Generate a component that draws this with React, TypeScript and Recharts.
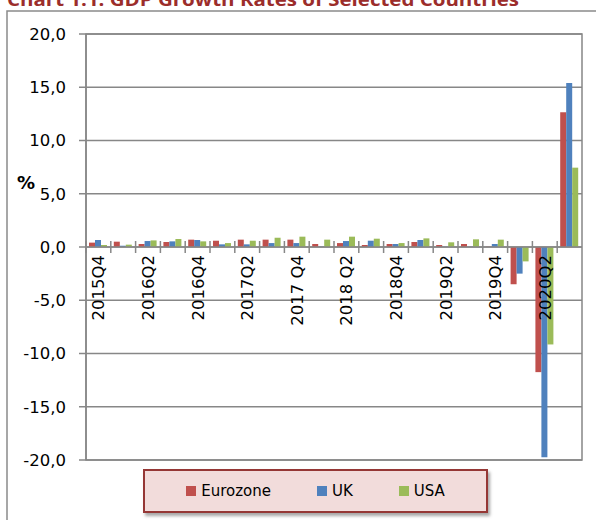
import {
  Bar,
  BarChart,
  CartesianGrid,
  Legend,
  ReferenceArea,
  ReferenceLine,
  XAxis,
  YAxis,
} from 'recharts';

const quarters = [
  '2015Q4', '2016Q1', '2016Q2', '2016Q3', '2016Q4', '2017Q1', '2017Q2', '2017Q3', '2017 Q4', '2018Q1',
  '2018 Q2', '2018Q3', '2018Q4', '2019Q1', '2019Q2', '2019Q3', '2019Q4', '2020Q1', '2020Q2', '2020Q3',
];
const eurozone = [
  0.41, 0.5, 0.28, 0.47, 0.69, 0.59, 0.69, 0.69, 0.69, 0.28,
  0.37, 0.19, 0.28, 0.47, 0.19, 0.28, 0.03, -3.5, -11.75, 12.65,
];
const uk = [
  0.66, 0.12, 0.56, 0.53, 0.66, 0.25, 0.25, 0.37, 0.37, 0.03,
  0.56, 0.59, 0.28, 0.66, 0.02, 0.02, 0.28, -2.5, -19.75, 15.4,
];
const usa = [
  0.19, 0.22, 0.62, 0.75, 0.53, 0.37, 0.59, 0.87, 0.97, 0.69,
  0.97, 0.78, 0.37, 0.81, 0.44, 0.72, 0.69, -1.35, -9.15, 7.45,
];
const yTicks = [-20, -15, -10, -5, 0, 5, 10, 15, 20];

const data = quarters.map((q, i) => ({ q, eurozone: eurozone[i], uk: uk[i], usa: usa[i] }));

const W = 596;
const H = 520;
const X_AXIS_H = 30;
const MARGIN = { top: 34, right: 14, bottom: 60 - X_AXIS_H, left: 0 };
const Y_AXIS_W = 86;
const PLOT_H = H - MARGIN.top - MARGIN.bottom - X_AXIS_H;
const PLOT_W = W - MARGIN.left - MARGIN.right - Y_AXIS_W;
const BAND = PLOT_W / quarters.length;
const ZERO_Y = MARGIN.top + (PLOT_H * 20) / 40;
const FONT = '"DejaVu Sans", sans-serif';
const GRID = '#878787';

function QuarterTick(props: any) {
  const { x, payload } = props;
  const index = payload?.index ?? props.index ?? 0;
  const edge = x - BAND / 2;
  return (
    <g>
      <line x1={edge} x2={edge} y1={ZERO_Y - 6} y2={ZERO_Y + 6} stroke={GRID} strokeWidth={1.5} />
      {index % 2 === 0 && (
        <text
          x={x}
          y={ZERO_Y + 8}
          dy="0.36em"
          transform={`rotate(-90 ${x} ${ZERO_Y + 8})`}
          textAnchor="end"
          fontFamily={FONT}
          fontSize={16.5}
          fill="#000"
        >
          {payload.value}
        </text>
      )}
    </g>
  );
}

function LegendBox(props: any) {
  const items = props.payload || [];
  return (
    <div
      style={{
        boxSizing: 'border-box',
        width: '100%',
        height: '100%',
        border: '2px solid #953735',
        background: '#f2dcdb',
        boxShadow: '2px 3px 3px rgba(0,0,0,0.35)',
        display: 'flex',
        alignItems: 'center',
        justifyContent: 'center',
        gap: 46,
        fontFamily: FONT,
        fontSize: 15,
        color: '#000',
      }}
    >
      {items.map((it: any) => (
        <span key={it.value} style={{ display: 'flex', alignItems: 'center' }}>
          <span style={{ width: 10, height: 10, background: it.color, marginRight: 5 }} />
          {it.value}
        </span>
      ))}
    </div>
  );
}

export default function App() {
  return (
    <div style={{ position: 'absolute', left: 0, top: 0, width: W, height: H, overflow: 'hidden', background: '#fff' }}>
      <svg width={W} height={H} style={{ position: 'absolute', left: 0, top: 0 }}>
        <text
          x={7}
          y={6}
          fontFamily='"Open Sans", sans-serif'
          fontWeight="bold"
          fontSize={18}
          fill="#9b2d2b"
          textLength={512}
          lengthAdjust="spacingAndGlyphs"
        >
          Chart 1.1: GDP Growth Rates of Selected Countries
        </text>
        <rect x={7} y={11} width={620} height={540} fill="none" stroke="#8a8a8a" strokeWidth={1.5} />
        <text x={26} y={189} textAnchor="middle" fontFamily={FONT} fontWeight="bold" fontSize={18} fill="#000">
          %
        </text>
      </svg>
      <div style={{ position: 'absolute', left: 0, top: 0 }}>
        <BarChart width={W} height={H} data={data} margin={MARGIN} barCategoryGap={3} barGap={0}>
          <CartesianGrid vertical={false} stroke={GRID} strokeWidth={1.5} />
          <XAxis
            dataKey="q"
            height={X_AXIS_H}
            interval={0}
            axisLine={false}
            tickLine={false}
            tick={QuarterTick}
          />
          <YAxis
            width={Y_AXIS_W}
            domain={[-20, 20]}
            ticks={yTicks}
            interval={0}
            tickSize={7}
            tickMargin={13}
            tickFormatter={(v: number) => v.toFixed(1).replace('.', ',')}
            tick={{ fill: '#000', fontSize: 16.5, fontFamily: FONT }}
            axisLine={{ stroke: GRID, strokeWidth: 1.5 }}
            tickLine={{ stroke: GRID, strokeWidth: 1.5 }}
          />
          <ReferenceArea y1={-20} y2={20} fill="none" stroke={GRID} strokeWidth={1.5} />
          <Bar dataKey="eurozone" name="Eurozone" fill="#c0504d" isAnimationActive={false} />
          <Bar dataKey="uk" name="UK" fill="#4f81bd" isAnimationActive={false} />
          <Bar dataKey="usa" name="USA" fill="#9bbb59" isAnimationActive={false} />
          <ReferenceLine y={0} stroke={GRID} strokeWidth={1.5} />
          <Legend
            layout="horizontal"
            verticalAlign="middle"
            align="center"
            content={LegendBox}
            wrapperStyle={{ left: 143, top: 469, width: 345, height: 44 }}
          />
        </BarChart>
      </div>
    </div>
  );
}
